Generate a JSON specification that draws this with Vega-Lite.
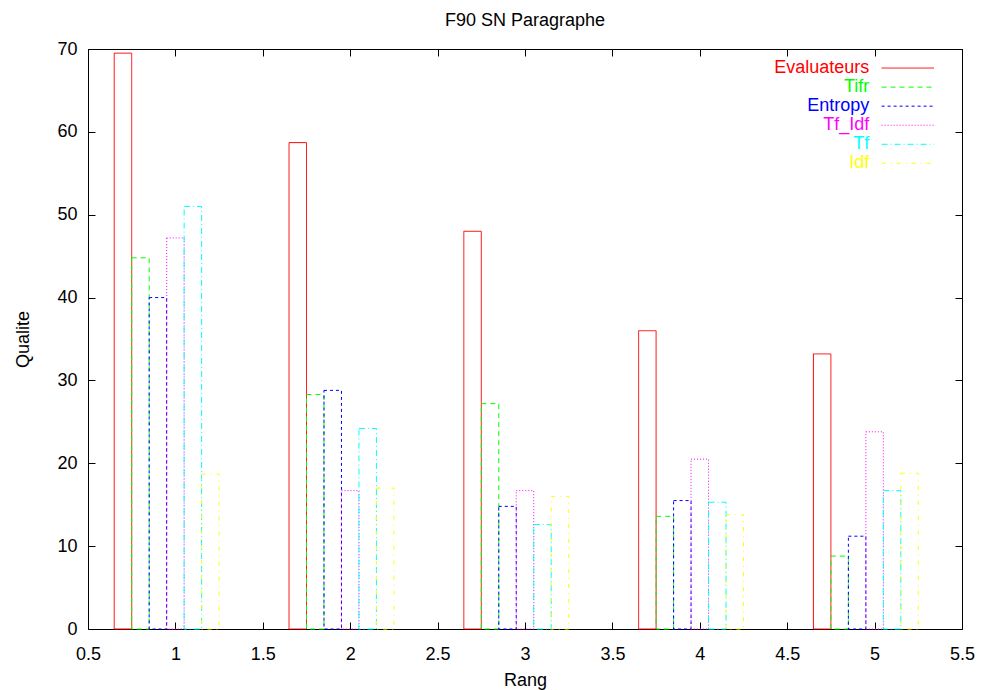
{
  "$schema": "https://vega.github.io/schema/vega-lite/v6.json",
  "width": 874,
  "height": 580,
  "autosize": {"type": "none"},
  "padding": {"left": 88, "top": 49, "right": 20, "bottom": 61},
  "title": {"text": "F90 SN Paragraphe", "font": "Liberation Sans", "fontSize": 18, "fontWeight": "normal", "color": "#000000", "offset": 10},
  "config": {
    "view": {"stroke": "#000000", "strokeWidth": 1},
    "font": "Liberation Sans",
    "axis": {"grid": false, "domain": false, "tickColor": "#000000", "tickSize": -7, "tickWidth": 1, "labelFont": "Liberation Sans", "labelFontSize": 18, "labelColor": "#000000", "titleFont": "Liberation Sans", "titleFontSize": 18, "titleFontWeight": "normal", "titleColor": "#000000"}
  },
  "datasets": {
    "scores": [
      {"rang": 1, "serie": "Evaluateurs", "valeur": 69.5},
      {"rang": 1, "serie": "Tifr", "valeur": 44.8},
      {"rang": 1, "serie": "Entropy", "valeur": 40.0},
      {"rang": 1, "serie": "Tf_Idf", "valeur": 47.2},
      {"rang": 1, "serie": "Tf", "valeur": 51.0},
      {"rang": 1, "serie": "Idf", "valeur": 18.7},
      {"rang": 2, "serie": "Evaluateurs", "valeur": 58.7},
      {"rang": 2, "serie": "Tifr", "valeur": 28.3},
      {"rang": 2, "serie": "Entropy", "valeur": 28.8},
      {"rang": 2, "serie": "Tf_Idf", "valeur": 16.7},
      {"rang": 2, "serie": "Tf", "valeur": 24.2},
      {"rang": 2, "serie": "Idf", "valeur": 17.0},
      {"rang": 3, "serie": "Evaluateurs", "valeur": 48.0},
      {"rang": 3, "serie": "Tifr", "valeur": 27.2},
      {"rang": 3, "serie": "Entropy", "valeur": 14.8},
      {"rang": 3, "serie": "Tf_Idf", "valeur": 16.7},
      {"rang": 3, "serie": "Tf", "valeur": 12.6},
      {"rang": 3, "serie": "Idf", "valeur": 16.0},
      {"rang": 4, "serie": "Evaluateurs", "valeur": 36.0},
      {"rang": 4, "serie": "Tifr", "valeur": 13.6},
      {"rang": 4, "serie": "Entropy", "valeur": 15.5},
      {"rang": 4, "serie": "Tf_Idf", "valeur": 20.5},
      {"rang": 4, "serie": "Tf", "valeur": 15.3},
      {"rang": 4, "serie": "Idf", "valeur": 13.8},
      {"rang": 5, "serie": "Evaluateurs", "valeur": 33.2},
      {"rang": 5, "serie": "Tifr", "valeur": 8.8},
      {"rang": 5, "serie": "Entropy", "valeur": 11.2},
      {"rang": 5, "serie": "Tf_Idf", "valeur": 23.8},
      {"rang": 5, "serie": "Tf", "valeur": 16.7},
      {"rang": 5, "serie": "Idf", "valeur": 18.8}
    ]
  },
  "data": {"name": "scores"},
  "transform": [
    {"calculate": "indexof(['Evaluateurs','Tifr','Entropy','Tf_Idf','Tf','Idf'], datum.serie)", "as": "idx"}
  ],
  "layer": [
    {
      "transform": [
        {"calculate": "datum.rang - 0.35 + 0.1 * datum.idx", "as": "x0"},
        {"calculate": "datum.x0 + 0.1", "as": "x1"}
      ],
      "mark": {"type": "bar", "filled": false, "strokeWidth": 1},
      "encoding": {
        "x": {"field": "x0", "type": "quantitative", "scale": {"domain": [0.5, 5.5], "nice": false, "zero": false},
              "axis": {"orient": "bottom", "title": "Rang", "values": [0.5, 1, 1.5, 2, 2.5, 3, 3.5, 4, 4.5, 5, 5.5], "format": "~g", "labelPadding": 23, "titlePadding": 8, "labelFlush": false}},
        "x2": {"field": "x1"},
        "y": {"field": "valeur", "type": "quantitative", "scale": {"domain": [0, 70], "nice": false},
              "axis": {"orient": "left", "title": "Qualite", "values": [0, 10, 20, 30, 40, 50, 60, 70], "labelPadding": 18, "titlePadding": 24, "labelFlush": false}},
        "y2": {"datum": 0},
        "color": {"field": "serie", "type": "nominal", "legend": null,
                  "scale": {"domain": ["Evaluateurs", "Tifr", "Entropy", "Tf_Idf", "Tf", "Idf"], "range": ["#ff0000", "#00ff00", "#0000ff", "#ff00ff", "#00ffff", "#ffff00"]}},
        "strokeDash": {"condition": [
            {"test": "datum.serie == 'Tifr'", "value": [5, 4]},
            {"test": "datum.serie == 'Entropy'", "value": [3, 3]},
            {"test": "datum.serie == 'Tf_Idf'", "value": [1, 2]},
            {"test": "datum.serie == 'Tf'", "value": [6, 3, 1, 3]},
            {"test": "datum.serie == 'Idf'", "value": [4, 5, 1, 5]}
          ], "value": [1, 0]}
      }
    },
    {
      "transform": [
        {"filter": "datum.rang == 1"},
        {"calculate": "67.7 - 2.3 * datum.idx", "as": "ly"}
      ],
      "mark": {"type": "rule", "strokeWidth": 1},
      "encoding": {
        "x": {"datum": 5.04, "type": "quantitative", "axis": {"orient": "top", "labels": false, "title": null, "values": [0.5, 1, 1.5, 2, 2.5, 3, 3.5, 4, 4.5, 5, 5.5]}},
        "x2": {"datum": 5.34},
        "y": {"field": "ly", "type": "quantitative", "axis": {"orient": "right", "labels": false, "title": null, "values": [0, 10, 20, 30, 40, 50, 60, 70]}},
        "color": {"field": "serie", "type": "nominal", "legend": null},
        "strokeDash": {"condition": [
            {"test": "datum.serie == 'Tifr'", "value": [5, 4]},
            {"test": "datum.serie == 'Entropy'", "value": [3, 3]},
            {"test": "datum.serie == 'Tf_Idf'", "value": [1, 2]},
            {"test": "datum.serie == 'Tf'", "value": [6, 3, 1, 3]},
            {"test": "datum.serie == 'Idf'", "value": [4, 5, 1, 5]}
          ], "value": [1, 0]}
      }
    },
    {
      "transform": [
        {"filter": "datum.rang == 1"},
        {"calculate": "67.7 - 2.3 * datum.idx", "as": "ly"}
      ],
      "mark": {"type": "text", "align": "right", "baseline": "middle", "font": "Liberation Sans", "fontSize": 18},
      "encoding": {
        "x": {"datum": 4.97, "type": "quantitative", "axis": null},
        "y": {"field": "ly", "type": "quantitative", "axis": null},
        "text": {"field": "serie"},
        "color": {"field": "serie", "type": "nominal", "legend": null}
      }
    }
  ]
}
